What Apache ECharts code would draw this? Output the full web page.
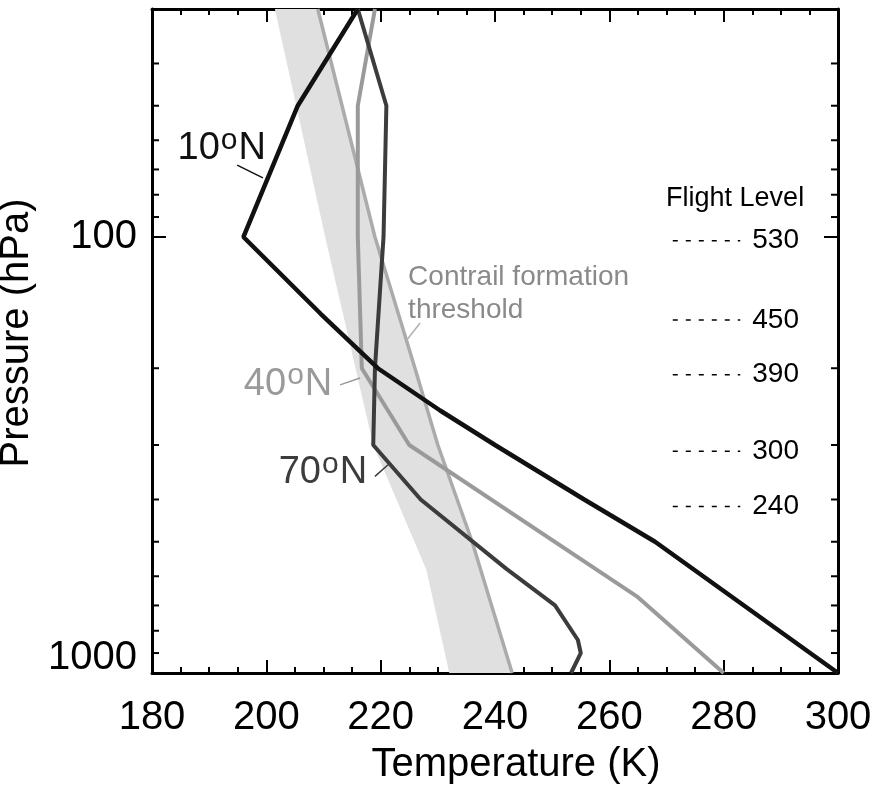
<!DOCTYPE html>
<html><head><meta charset="utf-8">
<script src="https://cdn.jsdelivr.net/npm/echarts@6/dist/echarts.min.js"></script>
<style>html,body{margin:0;padding:0;background:#fff}#c{width:878px;height:785px}</style>
</head><body><div id="c"></div>
<script>
// ---- data ----
const pressure10N = [30, 50, 100, 150, 200, 250, 300, 400, 500, 1000];
const temp10N     = [216, 205.5, 196, 209.5, 219.5, 230.4, 240, 255.6, 268, 300];
const pressure40N = [30, 50, 100, 200, 300, 670, 1000];
const temp40N     = [219, 216, 216, 216.7, 225, 265, 280];
const pressure70N = [30, 50, 100, 200, 300, 400, 577, 700, 840, 900, 1000];
const temp70N     = [216, 221, 220.5, 219, 218.7, 227, 242, 250.5, 254.5, 255, 253.3];
const thresholdPressure = [30, 100, 200, 300, 500, 1000];
const thresholdTemp     = [209, 219, 226, 230, 236, 243];
const bandLeftPressure  = [30, 100, 300, 580, 1000];
const bandLeftTemp      = [201.5, 210.3, 218.7, 228, 232];
const flightLevels        = ['530', '450', '390', '300', '240'];
const flightLevelPressure = [102, 155, 207, 310, 415];
const yMajorLabels = [100, 1000];
const yMinorTicks = [40, 50, 60, 70, 80, 90, 200, 300, 400, 500, 600, 700, 800, 900];

const FONT = '"Liberation Sans", Arial, sans-serif';
const pairs = (t, p) => t.map((v, i) => [v, p[i]]);

const chart = echarts.init(document.getElementById('c'), null, {renderer: 'canvas'});

const axisLineStyle = {color: '#000', width: 3};
const xBase = {
  type: 'value', min: 180, max: 300, interval: 20,
  axisLine: {show: true, onZero: false, lineStyle: axisLineStyle},
  axisTick: {show: true, inside: true, length: 13, lineStyle: {color: '#000', width: 2}},
  minorTick: {show: true, splitNumber: 4, length: 6, lineStyle: {color: '#000', width: 2}},
  splitLine: {show: false}, minorSplitLine: {show: false}
};
const yBase = {
  type: 'log', logBase: 10, min: 30, max: 1000, inverse: true,
  axisLine: {show: true, onZero: false, lineStyle: axisLineStyle},
  axisTick: {show: true, inside: true, length: 14, lineStyle: {color: '#000', width: 2}},
  splitLine: {show: false}
};

const option = {
  animation: false,
  backgroundColor: '#fff',
  grid: {left: 152, right: 40, top: 9, bottom: 112, containLabel: false, outerBoundsMode: 'none'},
  xAxis: [
    Object.assign({}, xBase, {
      position: 'bottom',
      axisLabel: {fontSize: 40, color: '#000', margin: 25, fontFamily: FONT},
      name: 'Temperature (K)', nameLocation: 'middle', nameGap: 72,
      nameTextStyle: {fontSize: 40, color: '#000', fontFamily: FONT, padding: [0, 0, 0, 42]}
    }),
    Object.assign({}, xBase, {position: 'top', axisLabel: {show: false}})
  ],
  yAxis: [
    Object.assign({}, yBase, {
      position: 'left',
      axisLabel: {
        margin: 15, color: '#000', fontFamily: FONT, fontSize: 40,
        showMinLabel: false,
        formatter: function (v) {
          const r = Math.round(v);
          if (r === yMajorLabels[0]) return '{a|' + r + '}';
          if (r === yMajorLabels[1]) return '{b|' + r + '}';
          return '';
        },
        rich: {
          a: {fontSize: 40, fontFamily: FONT, color: '#000'},
          b: {fontSize: 40, fontFamily: FONT, color: '#000', padding: [0, 0, 30, 0]}
        }
      },
      name: 'Pressure (hPa)', nameLocation: 'middle', nameGap: 103, nameRotate: 90,
      nameTextStyle: {fontSize: 40, color: '#000', fontFamily: FONT, padding: [0, 0, 0, 16]}
    }),
    Object.assign({}, yBase, {position: 'right', axisLabel: {show: false}})
  ],
  series: [
    {
      type: 'custom', name: 'band', z: 1, silent: true,
      data: [[220, 100]],
      renderItem: function (params, api) {
        const pts = [];
        bandLeftTemp.forEach((t, i) => pts.push(api.coord([t, bandLeftPressure[i]])));
        for (let i = thresholdTemp.length - 1; i >= 0; i--) pts.push(api.coord([thresholdTemp[i], thresholdPressure[i]]));
        return {type: 'polygon', shape: {points: pts}, style: {fill: '#e0e0e0', stroke: null}};
      },
      clip: true
    },
    {
      type: 'line', name: 'threshold', z: 2, data: pairs(thresholdTemp, thresholdPressure),
      symbol: 'none', lineStyle: {color: '#ababab', width: 3.5}, smooth: false
    },
    {
      type: 'line', name: '40N', z: 3, data: pairs(temp40N, pressure40N),
      symbol: 'none', lineStyle: {color: '#9a9a9a', width: 4}, smooth: false
    },
    {
      type: 'line', name: '70N', z: 4, data: pairs(temp70N, pressure70N),
      symbol: 'none', lineStyle: {color: '#3c3c3c', width: 4}, smooth: false
    },
    {
      type: 'line', name: '10N', z: 5, data: pairs(temp10N, pressure10N),
      symbol: 'none', lineStyle: {color: '#111', width: 4.5}, smooth: false
    },
    {
      type: 'custom', name: 'yMinorTicks', z: 6, silent: true,
      data: yMinorTicks.map(p => [180, p]),
      renderItem: function (params, api) {
        const p = api.value(1);
        const l = api.coord([180, p]);
        const r = api.coord([300, p]);
        const st = {stroke: '#000', lineWidth: 2};
        return {type: 'group', children: [
          {type: 'line', shape: {x1: l[0], y1: l[1], x2: l[0] + 7, y2: l[1]}, style: st},
          {type: 'line', shape: {x1: r[0], y1: r[1], x2: r[0] - 7, y2: r[1]}, style: st}
        ]};
      },
      clip: false
    },
    {
      type: 'custom', name: 'flightLevels', z: 6, silent: true,
      data: flightLevelPressure.map(p => [277, p]),
      renderItem: function (params, api) {
        const p = api.value(1);
        const a = api.coord([271.1, p]);
        const b = api.coord([282.9, p]);
        const t = api.coord([285, p]);
        return {type: 'group', children: [
          {type: 'line', shape: {x1: a[0], y1: a[1], x2: b[0], y2: b[1]},
           style: {stroke: '#000', lineWidth: 1.5, lineDash: [5, 8]}},
          {type: 'text', style: {x: t[0], y: t[1], text: flightLevels[params.dataIndex],
            fill: '#000', font: '28px ' + FONT, textAlign: 'left', textVerticalAlign: 'middle'}}
        ]};
      },
      clip: false
    }
  ]
};
chart.setOption(option);

// ---- annotations anchored in data coordinates ----
const px = (t, p) => chart.convertToPixel({xAxisIndex: 0, yAxisIndex: 0}, [t, p]);
function latLabel(num, t, p, color) {
  const c = px(t, p);
  return {
    type: 'text', x: c[0], y: c[1], z: 100,
    style: {
      text: '{n|' + num + '}{o|o}{n|N}', textAlign: 'center', textVerticalAlign: 'middle',
      rich: {
        n: {fontSize: 38, lineHeight: 40, fontFamily: FONT, fill: color, color: color},
        o: {fontSize: 30, lineHeight: 30, fontFamily: FONT, fill: color, color: color, padding: [0, 1, 16, 1]}
      }
    }
  };
}
function pointer(t1, p1, t2, p2, color) {
  const a = px(t1, p1), b = px(t2, p2);
  return {type: 'line', z: 100, shape: {x1: a[0], y1: a[1], x2: b[0], y2: b[1]}, style: {stroke: color, lineWidth: 1.5}};
}
function txt(s, t, p, color, size, align) {
  const c = px(t, p);
  return {type: 'text', x: c[0], y: c[1], z: 100,
    style: {text: s, fill: color, font: size + 'px ' + FONT, textAlign: align, textVerticalAlign: 'middle'}};
}
chart.setOption({graphic: [
  latLabel('10', 192.2, 62.8, '#111'),
  pointer(194.9, 68.4, 199.4, 73.2, '#111'),
  latLabel('40', 203.8, 217.4, '#9a9a9a'),
  pointer(212.9, 218.4, 216.4, 210.6, '#9a9a9a'),
  latLabel('70', 209.9, 347, '#3c3c3c'),
  pointer(219, 354, 221.3, 333, '#3c3c3c'),
  txt('Contrail formation', 224.8, 123.5, '#8a8a8a', 28, 'left'),
  txt('threshold', 224.8, 147, '#8a8a8a', 28, 'left'),
  pointer(226.9, 157.5, 224.6, 172, '#b0b0b0'),
  txt('Flight Level', 282, 81.8, '#000', 27, 'center')
]});
</script></body></html>
